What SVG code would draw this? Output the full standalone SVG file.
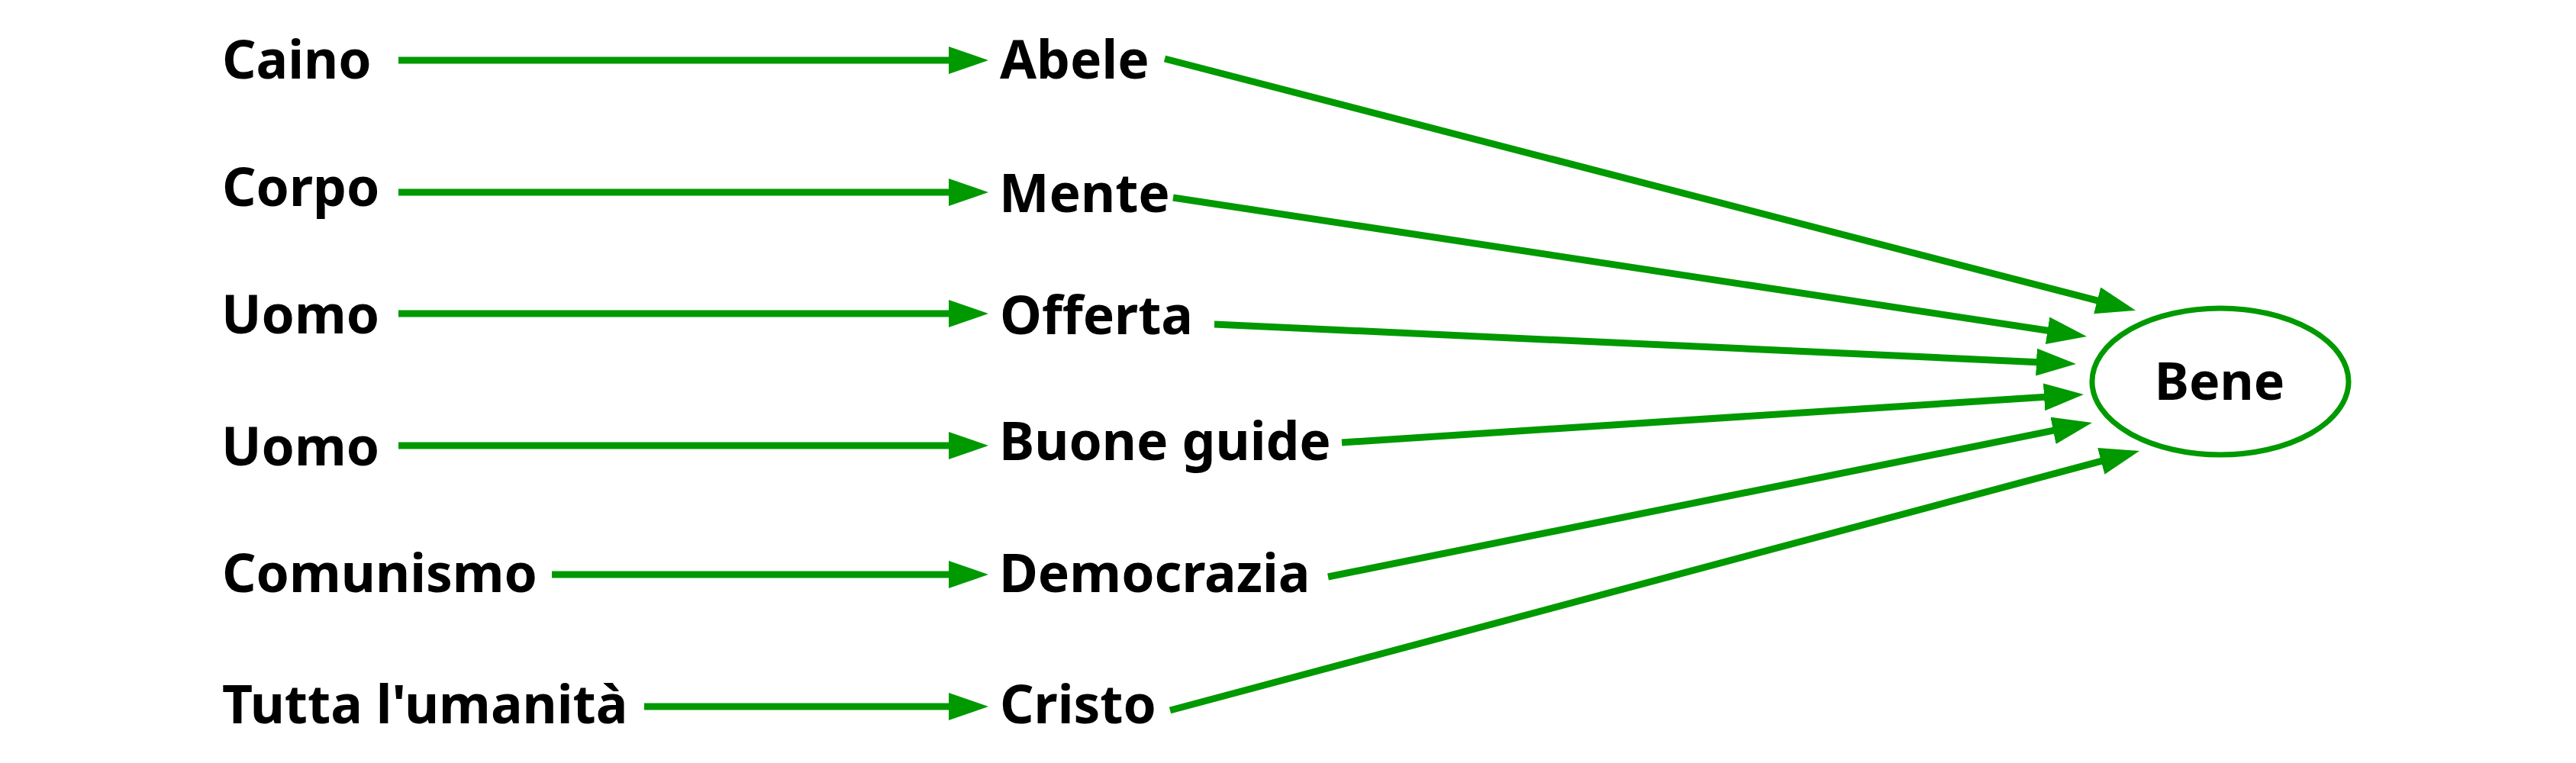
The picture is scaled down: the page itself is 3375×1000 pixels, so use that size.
<svg xmlns="http://www.w3.org/2000/svg" width="3375" height="1000" viewBox="0 0 3375 1000">
<style>
text { font-family: "Noto Sans", "Open Sans", sans-serif; font-weight: bold; font-size: 69.5px; fill: #000; }
.c { stroke: #009900; stroke-width: 9; fill: none; marker-end: url(#ah); }
</style>
<defs>
<marker id="ah" markerUnits="userSpaceOnUse" markerWidth="54" markerHeight="38" refX="2" refY="18" orient="auto" viewBox="0 0 54 38">
<path d="M0,0 L52,18 L0,36 z" fill="#009900"/>
</marker>
</defs>
<rect width="3375" height="1000" fill="#fff"/>
<g id="connectors">
<line class="c" x1="522" y1="79" x2="1245" y2="79"/>
<line class="c" x1="522" y1="252" x2="1245" y2="252"/>
<line class="c" x1="522" y1="411" x2="1245" y2="411"/>
<line class="c" x1="522" y1="584" x2="1245" y2="584"/>
<line class="c" x1="723" y1="753" x2="1245" y2="753"/>
<line class="c" x1="844" y1="926" x2="1245" y2="926"/>
<line class="c" x1="1526" y1="77" x2="2749.6" y2="394.4"/>
<line class="c" x1="1537" y1="259" x2="2684.6" y2="433.5"/>
<line class="c" x1="1591" y1="425" x2="2670" y2="474.7"/>
<line class="c" x1="1758" y1="580" x2="2680.1" y2="520.2"/>
<line class="c" x1="1740" y1="756" x2="2692" y2="563.9"/>
<line class="c" x1="1533" y1="931" x2="2754.7" y2="603.9"/>
</g>
<g id="n-caino"><text x="291" y="103">Caino</text></g>
<g id="n-abele"><text x="1310" y="103">Abele</text></g>
<g id="n-corpo"><text x="291" y="270">Corpo</text></g>
<g id="n-mente"><text x="1309" y="278">Mente</text></g>
<g id="n-uomo1"><text x="290" y="437">Uomo</text></g>
<g id="n-offerta"><text x="1310" y="438">Offerta</text></g>
<g id="n-uomo2"><text x="290" y="610">Uomo</text></g>
<g id="n-buone"><text x="1309" y="603">Buone guide</text></g>
<g id="n-comunismo"><text x="291" y="776">Comunismo</text></g>
<g id="n-democrazia"><text x="1309" y="776">Democrazia</text></g>
<g id="n-tutta"><text x="291" y="948">Tutta l'umanità</text></g>
<g id="n-cristo"><text x="1310" y="948">Cristo</text></g>
<g id="n-bene">
<ellipse cx="2909" cy="500" rx="168" ry="96" fill="#fff" stroke="#009900" stroke-width="7"/>
<text x="2908" y="524" text-anchor="middle" style="font-size:68px">Bene</text>
</g>
</svg>
